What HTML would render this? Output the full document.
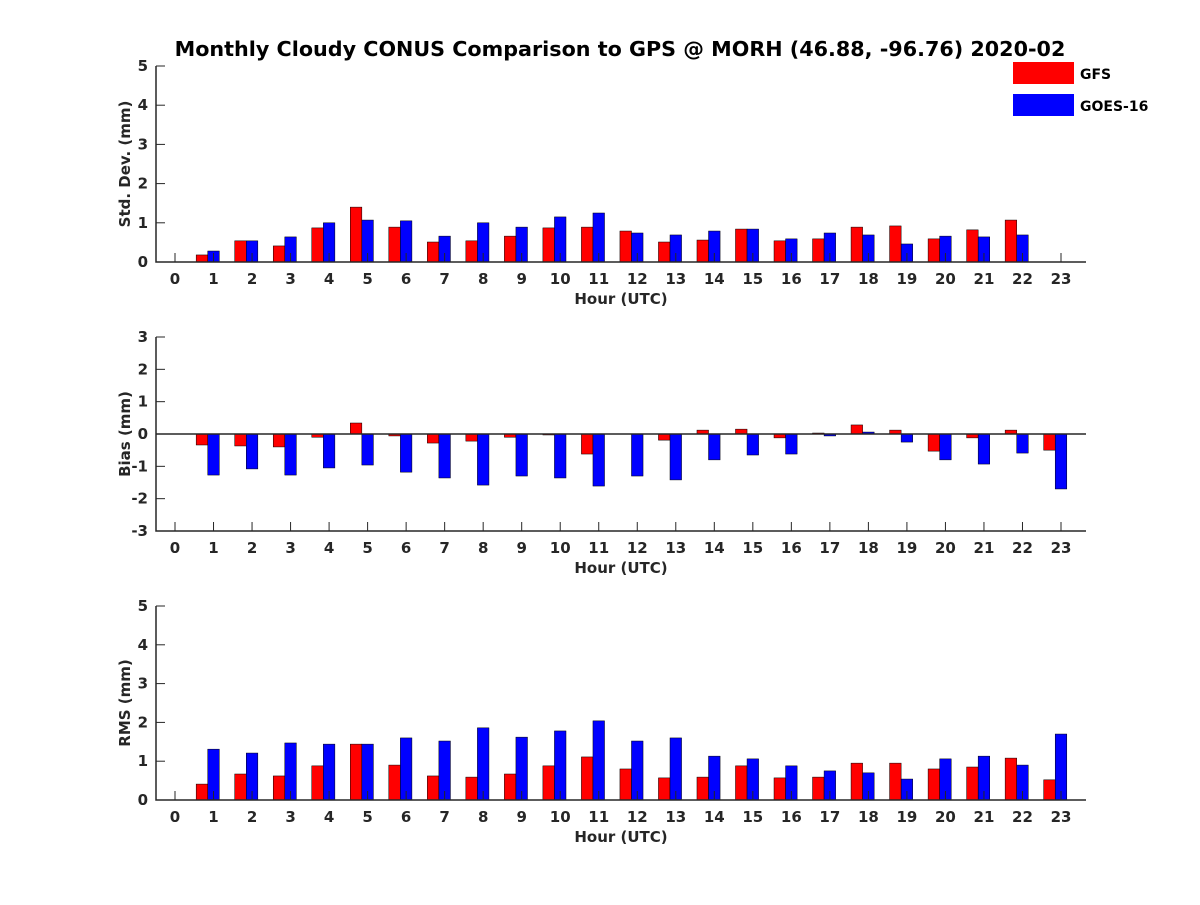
<!DOCTYPE html>
<html><head><meta charset="utf-8"><style>
body{margin:0;background:#fff}
svg text{font-family:"DejaVu Sans","Liberation Sans",sans-serif;font-weight:bold;fill:#262626}
</style></head><body>
<svg id="chart" width="1200" height="900" xmlns="http://www.w3.org/2000/svg">
<rect width="1200" height="900" fill="#fff"/>
<text x="620" y="56" font-size="20.7" text-anchor="middle" style="fill:#000">Monthly Cloudy CONUS Comparison to GPS @ MORH (46.88, -96.76) 2020-02</text>
<g>
<rect x="1013" y="62" width="61" height="22" fill="#ff0000"/>
<text x="1080" y="79" font-size="14" style="fill:#000">GFS</text>
<rect x="1013" y="94" width="61" height="22" fill="#0000ff"/>
<text x="1080" y="111" font-size="14" style="fill:#000">GOES-16</text>
</g>
</svg>
<script>
const hours=[0,1,2,3,4,5,6,7,8,9,10,11,12,13,14,15,16,17,18,19,20,21,22,23];
const stdGfs=[0,0.18,0.54,0.41,0.87,1.4,0.89,0.51,0.54,0.66,0.87,0.89,0.79,0.51,0.56,0.84,0.54,0.59,0.89,0.92,0.59,0.82,1.07,0];
const stdGoes=[0,0.28,0.54,0.64,1.0,1.07,1.05,0.66,1.0,0.89,1.15,1.25,0.74,0.69,0.79,0.84,0.59,0.74,0.69,0.46,0.66,0.64,0.69,0];
const biasGfs=[0,-0.34,-0.37,-0.4,-0.1,0.34,-0.06,-0.28,-0.22,-0.1,-0.03,-0.62,0,-0.19,0.12,0.15,-0.12,0.03,0.28,0.12,-0.53,-0.12,0.12,-0.5];
const biasGoes=[0,-1.27,-1.08,-1.27,-1.05,-0.96,-1.18,-1.36,-1.58,-1.3,-1.36,-1.61,-1.3,-1.42,-0.8,-0.65,-0.62,-0.06,0.06,-0.25,-0.8,-0.93,-0.59,-1.7];
const rmsGfs=[0,0.41,0.67,0.62,0.88,1.44,0.9,0.62,0.59,0.67,0.88,1.11,0.8,0.57,0.59,0.88,0.57,0.59,0.95,0.95,0.8,0.85,1.08,0.52];
const rmsGoes=[0,1.31,1.21,1.47,1.44,1.44,1.6,1.52,1.86,1.62,1.78,2.04,1.52,1.6,1.13,1.06,0.88,0.75,0.7,0.54,1.06,1.13,0.9,1.7];
const stdTicks=[0,1,2,3,4,5];
const biasTicks=[-3,-2,-1,0,1,2,3];
const rmsTicks=[0,1,2,3,4,5];

const svg=document.getElementById('chart');
const NS='http://www.w3.org/2000/svg';
function mk(tag,attrs,parent){const e=document.createElementNS(NS,tag);for(const k in attrs)e.setAttribute(k,attrs[k]);parent.appendChild(e);return e;}
const X0=156,X1=1086;
const xs=h=>175+h*(1061-175)/23;

function panel(name,top,bottom,ymin,ymax,ticks,ylabel,red,blue){
  const g=mk('g',{},svg);
  
  
  const ys=v=>bottom-(v-ymin)/(ymax-ymin)*(bottom-top);
  const bw=0.3*(1061-175)/23;
  hours.forEach((h,i)=>{
    [[red[i],-1.5,'#ff0000','gfs'],[blue[i],-0.5,'#0000ff','goes16']].forEach(([v,off,c,s])=>{
      if(v===0)return;
      const y0=ys(0),y1=ys(v);
      const r=mk('rect',{x:xs(h)+off*bw,y:Math.min(y0,y1),width:bw,height:Math.abs(y1-y0),fill:c,stroke:'#000','stroke-width':0.5},g);
      
      
    });
  });
  if(ymin<0){const z=mk('line',{x1:X0,x2:X1,y1:ys(0),y2:ys(0),stroke:'#262626','stroke-width':1.5},g);
    }
  const ax=mk('path',{d:`M${X0},${top}V${bottom}H${X1}`,fill:'none',stroke:'#262626','stroke-width':1.5},g);
  
  
  ticks.forEach(t=>{
    mk('line',{x1:X0,x2:X0+9,y1:ys(t),y2:ys(t),stroke:'#262626','stroke-width':1},g);
    const tx=mk('text',{x:X0-8,y:ys(t)+5,'font-size':15,'text-anchor':'end'},g);
    tx.textContent=t;
    
    
  });
  hours.forEach(h=>{
    mk('line',{x1:xs(h),x2:xs(h),y1:bottom,y2:bottom-9,stroke:'#262626','stroke-width':1},g);
    const tx=mk('text',{x:xs(h),y:bottom+22,'font-size':15,'text-anchor':'middle'},g);
    tx.textContent=h;
    
    
  });
  const xl=mk('text',{x:621,y:bottom+42,'font-size':15,'text-anchor':'middle'},g);
  xl.textContent='Hour (UTC)';
  
  
  const cy=(top+bottom)/2;
  const yl=mk('text',{x:0,y:0,'font-size':15,'text-anchor':'middle',transform:`translate(130,${cy}) rotate(-90)`},g);
  yl.textContent=ylabel;
  
  
}
panel('std-dev',66,262,0,5,stdTicks,'Std. Dev. (mm)',stdGfs,stdGoes);
panel('bias',337,531,-3,3,biasTicks,'Bias (mm)',biasGfs,biasGoes);
panel('rms',606,800,0,5,rmsTicks,'RMS (mm)',rmsGfs,rmsGoes);
</script>
</body></html>
